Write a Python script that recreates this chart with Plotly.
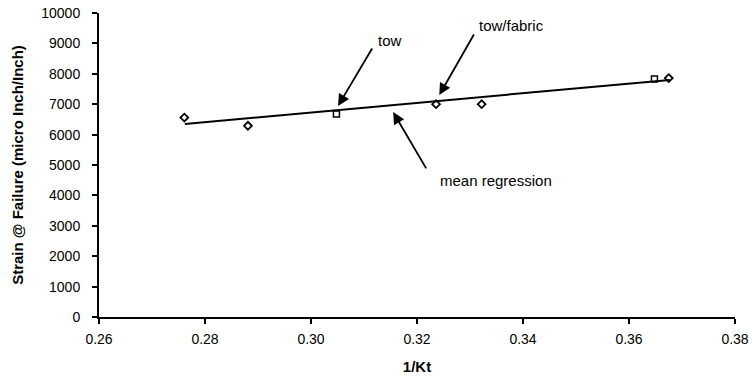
import plotly.graph_objects as go

# measured points (1/Kt vs strain at failure)
diamond_x = [0.2761, 0.2881, 0.3236, 0.3322, 0.3675]
diamond_y = [6560, 6290, 7000, 7000, 7860]
square_x = [0.3048, 0.3648]
square_y = [6680, 7830]
# mean regression line end points
reg_x = [0.2762, 0.3677]
reg_y = [6350, 7800]

x_ticks = [0.26, 0.28, 0.30, 0.32, 0.34, 0.36, 0.38]
y_ticks = list(range(0, 10001, 1000))

# annotation labels: (text, x, y)
labels = [
    ("tow", 0.3149, 9080),
    ("tow/fabric", 0.3379, 9600),
    ("mean regression", 0.3349, 4500),
]
# arrows: (head x, head y, tail x, tail y)
arrows = [
    (0.3051, 6940, 0.3117, 8880),
    (0.3242, 7300, 0.3309, 9340),
    (0.3155, 6740, 0.3219, 4840),
]

font = "Liberation Sans, Arial, Helvetica, sans-serif"

fig = go.Figure()
fig.add_trace(go.Scatter(
    x=reg_x, y=reg_y, mode="lines",
    line=dict(color="black", width=2), showlegend=False))
fig.add_trace(go.Scatter(
    x=diamond_x, y=diamond_y, mode="markers",
    marker=dict(symbol="diamond-open", size=6, color="black", line=dict(width=1.8)),
    showlegend=False))
fig.add_trace(go.Scatter(
    x=square_x, y=square_y, mode="markers",
    marker=dict(symbol="square-open", size=6, color="black", line=dict(width=1.5)),
    showlegend=False))

for text, tx, ty in labels:
    fig.add_annotation(x=tx, y=ty, xref="x", yref="y", text=text, showarrow=False,
                       font=dict(family=font, size=15, color="black"))
for hx, hy, tx, ty in arrows:
    fig.add_annotation(x=hx, y=hy, ax=tx, ay=ty, xref="x", yref="y",
                       axref="x", ayref="y", text="", showarrow=True,
                       arrowhead=2, arrowsize=1.3, arrowwidth=1.8, arrowcolor="black")

fig.update_layout(
    width=752, height=378,
    margin=dict(l=99, r=17, t=13, b=61),
    paper_bgcolor="white", plot_bgcolor="white",
    font=dict(family=font, size=14, color="black"),
    showlegend=False,
)
fig.update_xaxes(
    range=[0.26, 0.38], tickvals=x_ticks, tickformat=".2f", automargin=False,
    showgrid=False, zeroline=False, showline=True, linecolor="black", linewidth=2,
    ticks="outside", ticklen=5, tickwidth=1.5, tickcolor="black",
    ticklabelstandoff=3, ticklabeloverflow="allow",
    title=dict(text="<b>1/Kt</b>", font=dict(size=15), standoff=16),
)
fig.update_yaxes(
    range=[0, 10000], tickvals=y_ticks, tickformat="d", automargin=False,
    showgrid=False, zeroline=False, showline=True, linecolor="black", linewidth=2,
    ticks="outside", ticklen=5, tickwidth=1.5, tickcolor="black",
    ticklabelstandoff=9, ticklabeloverflow="allow",
    title=dict(text="<b>Strain @ Failure (micro Inch/Inch)</b>", font=dict(size=15), standoff=14),
)

# drop the page's default body margin so the figure fills the window
fig.write_html("out.html", config={"displayModeBar": False},
               post_script="document.body.style.margin = '0';")
